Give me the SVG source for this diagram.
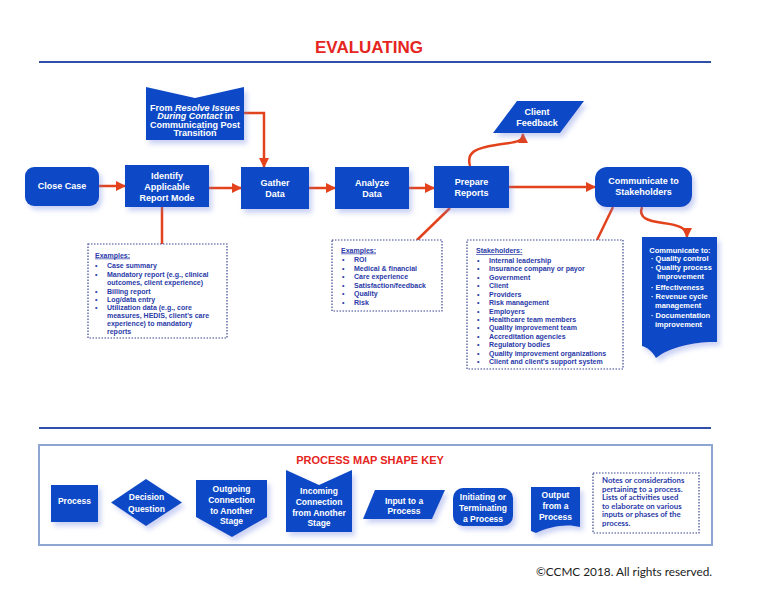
<svg xmlns="http://www.w3.org/2000/svg" width="772" height="600" viewBox="0 0 772 600">
<defs>
<filter id="sh" x="-20%" y="-20%" width="150%" height="150%">
<feDropShadow dx="3" dy="4" stdDeviation="2.5" flood-color="#6a7fe0" flood-opacity="0.35"/>
</filter>
<marker id="ah" viewBox="0 0 10 10" refX="9" refY="5" markerWidth="10" markerHeight="10" markerUnits="userSpaceOnUse" orient="auto">
<path d="M0,0 L10,5 L0,10 Z" fill="#e2431c"/>
</marker>
</defs>
<style>
.shp{fill:#0e4ac6;filter:url(#sh)}
.nt{font-family:"Liberation Sans",Arial,sans-serif;font-weight:bold;font-size:9px;fill:#ffffff;text-anchor:middle}
.kt{font-family:"Liberation Sans",Arial,sans-serif;font-weight:bold;font-size:8.5px;fill:#ffffff;text-anchor:middle}
.ct{font-family:"Liberation Sans",Arial,sans-serif;font-weight:bold;font-size:7.5px;fill:#ffffff}
.ex{font-family:"Liberation Sans",Arial,sans-serif;font-weight:bold;font-size:7px;fill:#2a3aa8}
.nb{fill:#ffffff;stroke:#3a4690;stroke-width:1.2;stroke-dasharray:1.5 1.5}
.con{fill:none;stroke:#e2431c;stroke-width:2.5}
.rule{stroke:#2e50aa;stroke-width:2}
</style>
<rect width="772" height="600" fill="#ffffff"/>
<text x="369" y="53" font-family="Liberation Sans,Arial,sans-serif" font-weight="bold" font-size="17" fill="#e52521" text-anchor="middle">EVALUATING</text>
<line class="rule" x1="39" y1="62" x2="711" y2="62"/>

<g id="connectors">
<path class="con" d="M99,186 H125" marker-end="url(#ah)"/>
<path class="con" d="M209,188 H241" marker-end="url(#ah)"/>
<path class="con" d="M309,188 H335" marker-end="url(#ah)"/>
<path class="con" d="M409,188 H434" marker-end="url(#ah)"/>
<path class="con" d="M509,187 H595" marker-end="url(#ah)"/>
<path class="con" d="M244,113 H264 V167" marker-end="url(#ah)"/>
<path class="con" d="M470,166 C466,152 476,148 496,145 C514,142 523,143 523,134" marker-end="url(#ah)"/>
<path class="con" d="M642,207 C638,218 648,221 663,223 C679,225 687,228 687,237" marker-end="url(#ah)"/>
<path class="con" d="M162,207 V244"/>
<path class="con" d="M450,208 L417,240"/>
<path class="con" d="M613,207 L597,240"/>
</g>

<g id="close-case">
<rect class="shp" x="25" y="167" width="74" height="39" rx="9"/>
<text class="nt" x="62" y="189">Close Case</text>
</g>
<g id="identify">
<rect class="shp" x="125" y="165" width="84" height="42"/>
<text class="nt" x="167" y="179">Identify</text>
<text class="nt" x="167" y="190">Applicable</text>
<text class="nt" x="167" y="201">Report Mode</text>
</g>
<g id="from-resolve">
<path class="shp" d="M146,87 L195,98 L244,87 L244,140 L146,140 Z"/>
<text class="nt" x="195" y="110.5" font-size="8.5">From <tspan font-style="italic">Resolve Issues</tspan></text>
<text class="nt" x="195" y="119" font-size="8.5"><tspan font-style="italic">During Contact</tspan> in</text>
<text class="nt" x="195" y="127.5" font-size="8.5">Communicating Post</text>
<text class="nt" x="195" y="136" font-size="8.5">Transition</text>
</g>
<g id="gather">
<rect class="shp" x="241" y="167" width="68" height="42"/>
<text class="nt" x="275" y="186">Gather</text>
<text class="nt" x="275" y="197">Data</text>
</g>
<g id="analyze">
<rect class="shp" x="335" y="167" width="74" height="42"/>
<text class="nt" x="372" y="186">Analyze</text>
<text class="nt" x="372" y="197">Data</text>
</g>
<g id="prepare">
<rect class="shp" x="434" y="166" width="75" height="42"/>
<text class="nt" x="471.5" y="185">Prepare</text>
<text class="nt" x="471.5" y="196">Reports</text>
</g>
<g id="client-feedback">
<path class="shp" d="M517,101 L584,101 L560,133 L493,133 Z"/>
<text class="nt" x="537" y="115">Client</text>
<text class="nt" x="537" y="126">Feedback</text>
</g>
<g id="communicate">
<rect class="shp" x="595" y="167" width="97" height="40" rx="12"/>
<text class="nt" x="643.5" y="184">Communicate to</text>
<text class="nt" x="643.5" y="195">Stakeholders</text>
</g>
<g id="communicate-to">
<path class="shp" d="M642,237 H717 V342 C700,341 670,346 656,358 C652,351 648,348 642,346 Z"/>
<text class="ct" x="680" y="252.5" text-anchor="middle">Communicate to:</text>
<text class="ct" x="651" y="261">· Quality control</text>
<text class="ct" x="651" y="270">· Quality process</text>
<text class="ct" x="657" y="279">improvement</text>
<text class="ct" x="651" y="289.5">· Effectiveness</text>
<text class="ct" x="651" y="298.5">· Revenue cycle</text>
<text class="ct" x="655" y="307.5">management</text>
<text class="ct" x="651" y="317.5">· Documentation</text>
<text class="ct" x="655" y="326.5">improvement</text>
</g>

<g id="examples-report">
<rect class="nb" x="88" y="244" width="139" height="94"/>
<text class="ex" x="95" y="257.5" text-decoration="underline">Examples:</text>
<g class="ex">
<text x="95" y="267.5">•</text><text x="107" y="267.5">Case summary</text>
<text x="95" y="276.5">•</text><text x="107" y="276.5">Mandatory report (e.g., clinical</text>
<text x="107" y="284.5">outcomes, client experience)</text>
<text x="95" y="293.5">•</text><text x="107" y="293.5">Billing report</text>
<text x="95" y="301.5">•</text><text x="107" y="301.5">Log/data entry</text>
<text x="95" y="310">•</text><text x="107" y="310">Utilization data (e.g., core</text>
<text x="107" y="318">measures, HEDIS, client's care</text>
<text x="107" y="326">experience) to mandatory</text>
<text x="107" y="334">reports</text>
</g>
</g>

<g id="examples-analysis">
<rect class="nb" x="332" y="240" width="110" height="71"/>
<text class="ex" x="341" y="252.5" text-decoration="underline">Examples:</text>
<g class="ex">
<text x="342" y="262">•</text><text x="354" y="262">ROI</text>
<text x="342" y="270.5">•</text><text x="354" y="270.5">Medical &amp; financial</text>
<text x="342" y="279">•</text><text x="354" y="279">Care experience</text>
<text x="342" y="287.5">•</text><text x="354" y="287.5">Satisfaction/feedback</text>
<text x="342" y="296">•</text><text x="354" y="296">Quality</text>
<text x="342" y="304.5">•</text><text x="354" y="304.5">Risk</text>
</g>
</g>

<g id="stakeholders">
<rect class="nb" x="467" y="240" width="156" height="129"/>
<text class="ex" x="476" y="253" text-decoration="underline">Stakeholders:</text>
<g class="ex">
<text x="477" y="262.5">•</text><text x="489" y="262.5">Internal leadership</text>
<text x="477" y="271">•</text><text x="489" y="271">Insurance company or payor</text>
<text x="477" y="279.5">•</text><text x="489" y="279.5">Government</text>
<text x="477" y="288">•</text><text x="489" y="288">Client</text>
<text x="477" y="296.5">•</text><text x="489" y="296.5">Providers</text>
<text x="477" y="305">•</text><text x="489" y="305">Risk management</text>
<text x="477" y="313.5">•</text><text x="489" y="313.5">Employers</text>
<text x="477" y="322">•</text><text x="489" y="322">Healthcare team members</text>
<text x="477" y="330">•</text><text x="489" y="330">Quality improvement team</text>
<text x="477" y="338.5">•</text><text x="489" y="338.5">Accreditation agencies</text>
<text x="477" y="347">•</text><text x="489" y="347">Regulatory bodies</text>
<text x="477" y="355.5">•</text><text x="489" y="355.5">Quality improvement organizations</text>
<text x="477" y="364">•</text><text x="489" y="364">Client and client's support system</text>
</g>
</g>

<line class="rule" x1="39" y1="428" x2="711" y2="428"/>

<g id="shape-key">
<rect x="39" y="445" width="673" height="100" fill="#ffffff" stroke="#8ea6d2" stroke-width="2"/>
<text x="370" y="464" font-family="Liberation Sans,Arial,sans-serif" font-weight="bold" font-size="11" fill="#e52521" text-anchor="middle">PROCESS MAP SHAPE KEY</text>
<g id="key-process">
<rect class="shp" x="51" y="485" width="47" height="37"/>
<text class="kt" x="74.5" y="504">Process</text>
</g>
<g id="key-decision">
<path class="shp" d="M146,479 L182,502.5 L146,526 L111,502.5 Z"/>
<text class="kt" x="146.5" y="500">Decision</text>
<text class="kt" x="146.5" y="511.5">Question</text>
</g>
<g id="key-outgoing">
<path class="shp" d="M196,480 H267 V517 L232,537 L196,517 Z"/>
<text class="kt" x="231.5" y="492">Outgoing</text>
<text class="kt" x="231.5" y="503">Connection</text>
<text class="kt" x="231.5" y="514">to Another</text>
<text class="kt" x="231.5" y="524">Stage</text>
</g>
<g id="key-incoming">
<path class="shp" d="M286,470 L319,485 L352,470 V532 H286 Z"/>
<text class="kt" x="319" y="494">Incoming</text>
<text class="kt" x="319" y="505">Connection</text>
<text class="kt" x="319" y="516">from Another</text>
<text class="kt" x="319" y="526">Stage</text>
</g>
<g id="key-input">
<path class="shp" d="M375,490 H445 L432,519 H363 Z"/>
<text class="kt" x="404" y="504">Input to a</text>
<text class="kt" x="404" y="514">Process</text>
</g>
<g id="key-terminal">
<rect class="shp" x="453" y="488" width="60" height="38" rx="10"/>
<text class="kt" x="483" y="500">Initiating or</text>
<text class="kt" x="483" y="511">Terminating</text>
<text class="kt" x="483" y="522">a Process</text>
</g>
<g id="key-output">
<path class="shp" d="M531,487 H580 V527 C566,523 548,527 536,533 L531,531 Z"/>
<text class="kt" x="555.5" y="498">Output</text>
<text class="kt" x="555.5" y="509">from a</text>
<text class="kt" x="555.5" y="520">Process</text>
</g>
<g id="key-notes">
<rect class="nb" x="593" y="473" width="106" height="60"/>
<g font-family="Lato,'Liberation Sans',sans-serif" font-weight="bold" font-size="7.8" fill="#2a3aa8">
<text x="602" y="483">Notes or considerations</text>
<text x="602" y="491.5">pertaining to a process.</text>
<text x="602" y="500">Lists of activities used</text>
<text x="602" y="508.5">to elaborate on various</text>
<text x="602" y="517">inputs or phases of the</text>
<text x="602" y="525.5">process.</text>
</g>
</g>
</g>

<text x="536" y="576" font-family="Lato,'Liberation Sans',sans-serif" font-size="11.8" fill="#222222">©CCMC 2018. All rights reserved.</text>
</svg>
